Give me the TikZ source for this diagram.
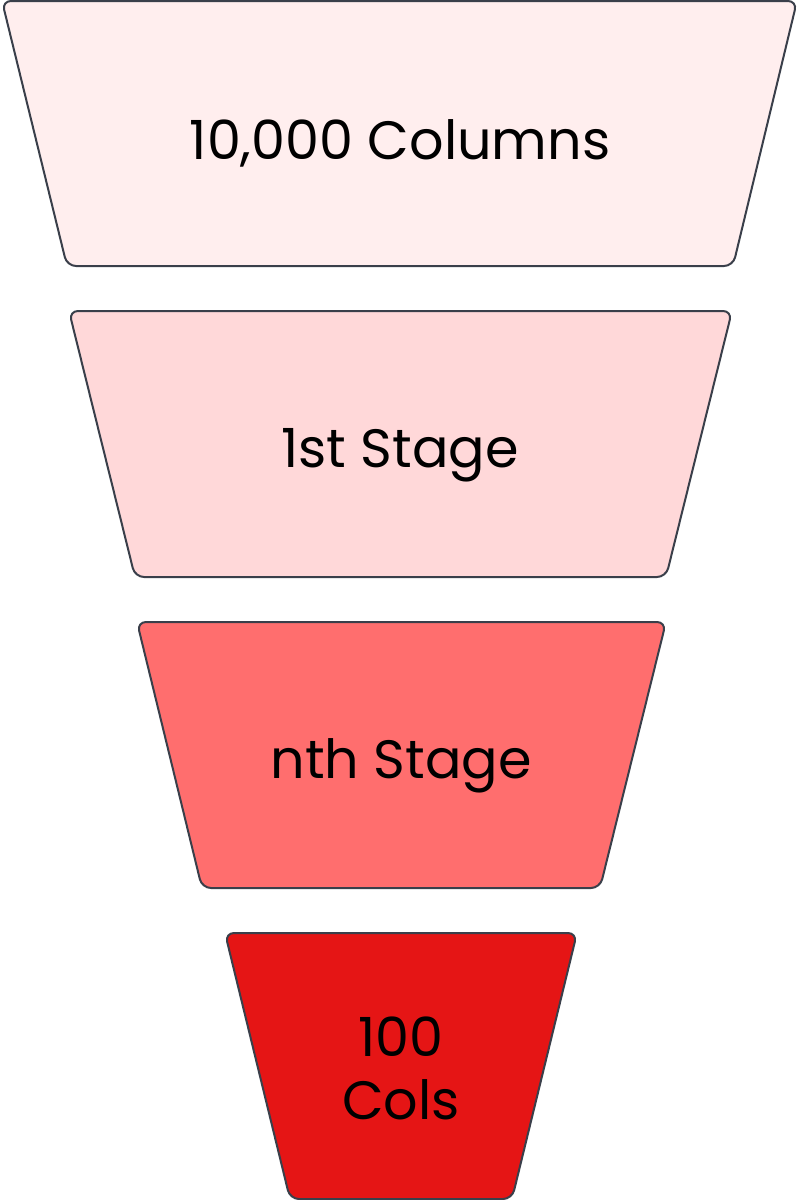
\documentclass[tikz,border=0pt]{standalone}
\usepackage{fontspec}
\setmainfont{Poppins}
\definecolor{edge}{HTML}{3A3F4A}
\definecolor{f1}{HTML}{FFEEEE}
\definecolor{f2}{HTML}{FFD8D9}
\definecolor{f3}{HTML}{FF6E6E}
\definecolor{f4}{HTML}{E51515}
\tikzset{
  funnel/.style={draw=edge, line width=2pt, rounded corners=9pt},
  lbl/.style={font=\fontsize{54}{63}\selectfont, text=black, align=center}
}
\begin{document}
\begin{tikzpicture}[x=1pt,y=-1pt]
\useasboundingbox (0,0) rectangle (799,1200);
\path[funnel, fill=f1] (2,1) -- (797,1) -- (733,266) -- (67,266) -- cycle;
\path[funnel, fill=f2] (69,311) -- (732,311) -- (666,577) -- (135,577) -- cycle;
\path[funnel, fill=f3] (137,622) -- (666,622) -- (600,888) -- (202,888) -- cycle;
\path[funnel, fill=f4] (225,933) -- (577,933) -- (512,1199) -- (290,1199) -- cycle;
\node[lbl] (a) at (400,143) {10,000 Columns};
\node[lbl] (b) at (400,455) {1st Stage};
\node[lbl] (c) at (401,766) {nth Stage};
\node[lbl] (d) at (401,1068) {100\\Cols};
\end{tikzpicture}
\end{document}
